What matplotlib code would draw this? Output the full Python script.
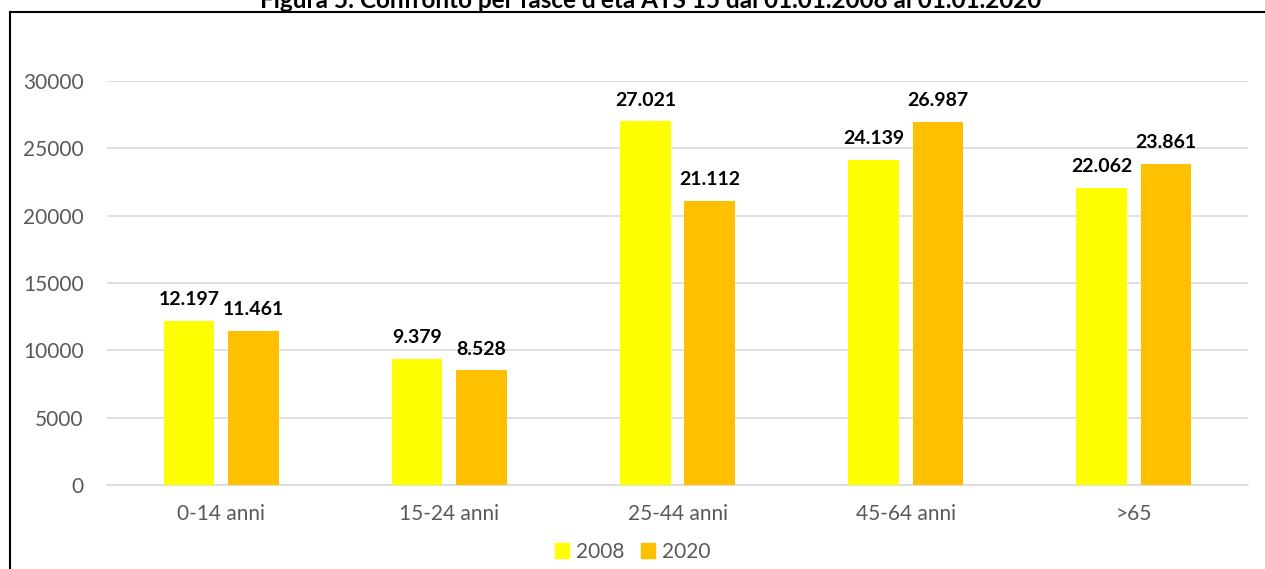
import numpy as np
import matplotlib
matplotlib.use("Agg")
import matplotlib.pyplot as plt
from matplotlib.lines import Line2D
from matplotlib.patches import Patch

categories = ["0-14 anni", "15-24 anni", "25-44 anni", "45-64 anni", ">65"]
values_2008 = [12197, 9379, 27021, 24139, 22062]
values_2020 = [11461, 8528, 21112, 26987, 23861]
series_names = ["2008", "2020"]
yticks = [0, 5000, 10000, 15000, 20000, 25000, 30000]

YELLOW, ORANGE = "#FFFF00", "#FFC000"
GRID, TXT = "#D9D9D9", "#595959"

plt.rcParams["font.family"] = ["Lato", "DejaVu Sans"]

fig = plt.figure(figsize=(12.65, 5.69), dpi=100)
ax = fig.add_axes([0.0846, 0.1476, 0.902, 0.710])

x = np.arange(len(categories))
w, off = 0.222, 0.141
b1 = ax.bar(x - off, values_2008, width=w, color=YELLOW, zorder=3)
b2 = ax.bar(x + off, values_2020, width=w, color=ORANGE, zorder=3)

def fmt(v):
    return f"{v:,}".replace(",", ".")

for bars, vals in ((b1, values_2008), (b2, values_2020)):
    for r, v in zip(bars, vals):
        ax.annotate(fmt(v), (r.get_x() + r.get_width() / 2, v),
                    xytext=(0, 9), textcoords="offset points",
                    ha="center", va="bottom", fontsize=14, fontweight="bold",
                    color="black")

ax.set_xlim(-0.5, len(categories) - 0.5)
ax.set_ylim(0, 30000)
ax.set_yticks(yticks)
ax.set_xticks(x)
ax.set_xticklabels(categories)
ax.yaxis.grid(True, color=GRID, lw=1.2, zorder=0)
ax.tick_params(length=0, labelsize=15, colors=TXT)
ax.tick_params(axis="y", pad=17)
ax.tick_params(axis="x", pad=14)
for s in ("top", "right", "left"):
    ax.spines[s].set_visible(False)
ax.spines["bottom"].set_color(GRID)
ax.spines["bottom"].set_linewidth(1.2)

handles = [Patch(color=YELLOW), Patch(color=ORANGE)]
fig.legend(handles, series_names, loc="center", bbox_to_anchor=(0.5, 0.030),
           ncol=2, frameon=False, fontsize=15, handlelength=0.7, handleheight=0.7,
           handletextpad=0.3, columnspacing=0.8, labelcolor=TXT)

# title partly cut off at the top, as in the source page
fig.text(0.514, 1 - 8 / 569, "Figura 5: Confronto per fasce d'età ATS 15 dal 01.01.2008 al 01.01.2020",
         ha="center", va="baseline", fontsize=17.5, fontweight="bold", color="black")

# page frame (top and left edges visible)
fig.add_artist(Line2D([10 / 1265, 1], [1 - 12 / 569, 1 - 12 / 569], color="black", lw=1.5,
                      transform=fig.transFigure))
fig.add_artist(Line2D([10 / 1265, 10 / 1265], [0, 1 - 12 / 569], color="black", lw=1.5,
                      transform=fig.transFigure))

fig.savefig("out.png", dpi=100, facecolor="white")
